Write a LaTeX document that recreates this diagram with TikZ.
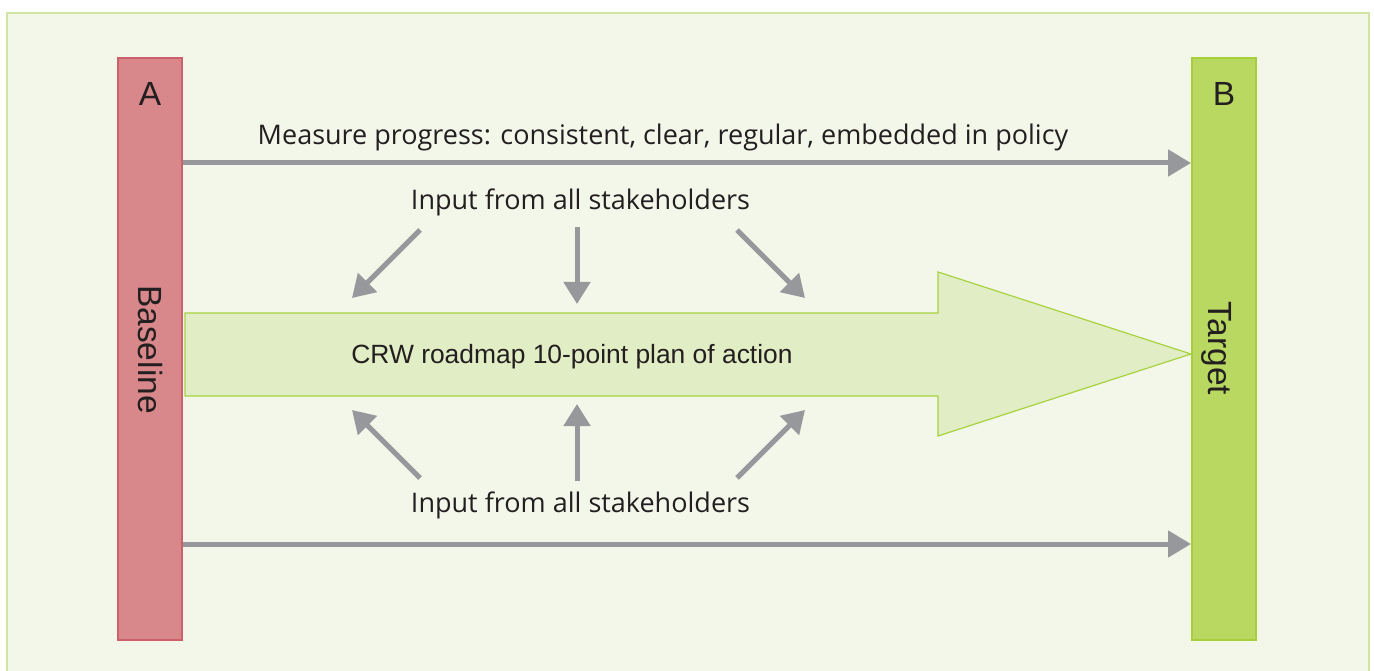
\documentclass[tikz,border=0pt]{standalone}
\usepackage{fontspec}
\setmainfont{Liberation Sans}
\newfontfamily\labelfont{Open Sans}
\usetikzlibrary{arrows.meta, positioning}

\definecolor{pagegreen}{HTML}{F3F7E9}
\definecolor{framegreen}{HTML}{CFE5A0}
\definecolor{baselinered}{HTML}{D8888A}
\definecolor{baselineedge}{HTML}{CC5F68}
\definecolor{targetgreen}{HTML}{B9D861}
\definecolor{targetedge}{HTML}{A6CF3B}
\definecolor{planfill}{HTML}{E1EDC4}
\definecolor{planedge}{HTML}{A8D23F}
\definecolor{arrowgray}{HTML}{97989C}
\definecolor{inkgray}{HTML}{231F20}

\tikzset{
  bar/.style={draw, line width=2pt, minimum width=64pt, minimum height=582pt, inner sep=0pt},
  barletter/.style={font=\fontsize{33.5}{33.5}\selectfont, text=inkgray, inner sep=0pt},
  feed/.style={draw=arrowgray, line width=5pt, -{Triangle[length=22pt,width=26pt]}},
  progress/.style={draw=arrowgray, line width=5pt, -{Triangle[length=23pt,width=26pt]}},
  caption/.style={font=\labelfont\fontsize{27}{27}\selectfont, text=inkgray, anchor=base, inner sep=0pt}
}

\begin{document}
\begin{tikzpicture}[x=1pt, y=-1pt]
  \useasboundingbox (0,0) rectangle (1374,671);
  \clip (0,0) rectangle (1374,671);

  % panel
  \draw[framegreen, fill=pagegreen, line width=2pt] (7,13) rectangle (1369,700);

  % start and end bars
  \node[bar, draw=baselineedge, fill=baselinered] (baseA) at (150,349) {};
  \node[bar, draw=targetedge, fill=targetgreen] (targetB) at (1224,349) {};
  \node[barletter] (labelA) at (150,94) {A};
  \node[barletter] (labelB) at (1224,94) {B};
  \node[barletter, rotate=-90] (baseline) at (150,349.5) {Baseline};
  \node[barletter, rotate=-90] (target) at (1217,348.5) {Target};

  % big plan arrow
  \draw[planedge, fill=planfill, line width=1.2pt]
    (185,313) -- (938,313) -- (938,272) -- (targetB.west |- 0,354)
    -- (938,436) -- (938,396) -- (185,396) -- cycle;
  \node[font=\fontsize{26.4}{26.4}\selectfont, text=inkgray, anchor=base, inner sep=0pt] (plan)
    at (572,363) {CRW roadmap 10-point plan of action};

  % progress lines
  \coordinate (upper) at (0,163);
  \coordinate (lower) at (0,544);
  \draw[progress] (baseA.east |- upper) -- (targetB.west |- upper);
  \draw[progress] (baseA.east |- lower) -- (targetB.west |- lower);

  \node[caption] (measure) at (663,145) {Measure progress: consistent, clear, regular, embedded in policy};
  \node[caption] (inTop) at (580.5,209.5) {Input from all stakeholders};
  \node[caption] (inBottom) at (580.5,512) {Input from all stakeholders};

  % stakeholder input arrows
  \foreach \tx/\ty/\hx/\hy [count=\i] in {420/230/352/298, 577/227/577/304, 737/230/805/298} {
    \coordinate (tailTop\i) at (\tx,\ty);
    \coordinate (headTop\i) at (\hx,\hy);
    \coordinate (tailBot\i) at (\tx,708-\ty);
    \coordinate (headBot\i) at (\hx,708-\hy);
    \draw[feed] (tailTop\i) -- (headTop\i);
    \draw[feed] (tailBot\i) -- (headBot\i);
  }
\end{tikzpicture}
\end{document}
